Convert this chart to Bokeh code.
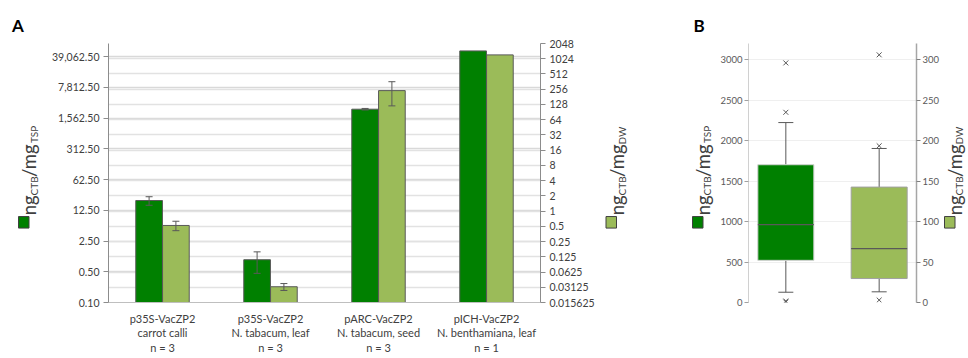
import math
from bokeh.plotting import figure
from bokeh.models import (FactorRange, Range1d, LogAxis, LinearAxis, FixedTicker, Grid,
                          ColumnDataSource, LogScale)
from bokeh.core.properties import value
from bokeh.transform import dodge
from bokeh.layouts import row
from bokeh.embed import file_html
from bokeh.resources import INLINE

# ---------------- data: panel A ----------------
group_construct = ["p35S-VacZP2", "p35S-VacZP2", "pARC-VacZP2", "pICH-VacZP2"]
group_tissue = ["carrot calli", "N. tabacum, leaf", "N. tabacum, seed", "N. benthamiana, leaf"]
group_n = ["n = 3", "n = 3", "n = 3", "n = 1"]
groups = [f"{a}\n{b}\n{c}" for a, b, c in zip(group_construct, group_tissue, group_n)]

tsp_mean = [20.9, 0.94, 2500.0, 53000.0]
tsp_err = [4.6, 0.48, 100.0, 0.0]
dw_mean = [0.52, 0.032, 240.0, 1220.0]
dw_err = [0.11, 0.005, 120.0, 0.0]

tsp_ticks = [0.1, 0.5, 2.5, 12.5, 62.5, 312.5, 1562.5, 7812.5, 39062.5]
tsp_tick_labels = ["0.10", "0.50", "2.50", "12.50", "62.50", "312.50",
                   "1,562.50", "7,812.50", "39,062.50"]
dw_ticks = [0.015625, 0.03125, 0.0625, 0.125, 0.25, 0.5, 1, 2, 4, 8, 16, 32,
            64, 128, 256, 512, 1024, 2048]
dw_tick_labels = ["0.015625", "0.03125", "0.0625", "0.125", "0.25", "0.5", "1",
                  "2", "4", "8", "16", "32", "64", "128", "256", "512", "1024", "2048"]
tsp_axis_max = 78125.0

# ---------------- data: panel B ----------------
box_q1 = [521.0, 29.6]
box_median = [962.0, 66.6]
box_q3 = [1702.0, 142.6]
box_low = [127.0, 13.2]
box_high = [2223.0, 190.3]
tsp_outliers = [2960.0, 2350.0, 18.0, 6.0]
dw_outliers = [306.0, 193.6, 3.0]
b_tsp_ticks = [0, 500, 1000, 1500, 2000, 2500, 3000]
b_dw_ticks = [0, 50, 100, 150, 200, 250, 300]

DARK = "#008000"
LIGHT = "#9BBB59"
EDGE = "#595959"
TXT = "#404040"
FONT = "Lato"
H = 356
FT = 43    # frame top (page px)
FB = 303   # frame bottom (page px)
BT, BB = FT, H - FB


def strip(width, left, title=None, title_x=0.0):
    f = figure(width=width, height=H, x_range=Range1d(left, left + width),
               y_range=Range1d(-FB, -FT), x_axis_location=None, y_axis_location=None,
               toolbar_location=None, output_backend="svg",
               min_border_left=0, min_border_right=0, min_border_top=BT,
               min_border_bottom=BB)
    f.outline_line_color = None
    f.grid.visible = False
    if title is not None:
        f.title.text = title
        f.title.text_font = FONT
        f.title.text_font_size = "17px"
        f.title.text_font_style = "bold"
        f.title.text_color = "black"
        f.title.align = "left"
        f.title.offset = title_x - left
        f.title.standoff = 15.5
    return f


def vtext(f, x, y, text, size):
    f.text(x=[x], y=[-y], text=[text], angle=math.pi / 2,
           text_align="left", text_baseline="alphabetic", text_font=value(FONT),
           text_font_size=value(size), text_color=TXT)


def unit_label(f, sq_left, base_x, sub_x, sub_start, sub_text, fill):
    f.quad(left=[sq_left], right=[sq_left + 10.5], top=[-216.7], bottom=[-228.3],
           fill_color=fill, line_color="#404040", line_width=1)
    vtext(f, base_x, 215.5, "ng", "18.5px")
    vtext(f, sub_x, 195.5, "CTB", "10px")
    vtext(f, base_x, 177, "/mg", "18.5px")
    vtext(f, sub_x, sub_start, sub_text, "10px")


# ================= strip left of A =================
LA = strip(48, 0, "A", 11.5)
unit_label(LA, 18.0, 28.5, 33.8, 143.0, "TSP", DARK)

# ================= panel A =================
tsp_range = Range1d(tsp_ticks[0], tsp_axis_max)
dw_range = Range1d(dw_ticks[0], dw_ticks[-1])
pA = figure(width=550, height=H, x_range=FactorRange(factors=groups), y_range=tsp_range,
            y_axis_type="log", output_backend="svg",
            toolbar_location=None, min_border_left=60, min_border_right=58,
            min_border_top=BT, min_border_bottom=BB)
pA.extra_y_ranges = {"dw": dw_range}
pA.extra_y_scales = {"dw": LogScale()}
pA.outline_line_color = None

src = ColumnDataSource(dict(cat=groups, tsp=tsp_mean, dw=dw_mean))
OFF = 0.124
W = 0.247
pA.vbar(x=dodge("cat", -OFF, range=pA.x_range), top="tsp", bottom=tsp_range.start,
        width=W, source=src, fill_color=DARK, line_color=EDGE, line_width=1)
pA.vbar(x=dodge("cat", OFF, range=pA.x_range), top="dw", bottom=dw_range.start,
        width=W, source=src, fill_color=LIGHT, line_color=EDGE, line_width=1,
        y_range_name="dw")

idx = [i for i in range(len(groups)) if tsp_err[i] > 0]
esrc_t = ColumnDataSource(dict(cat=[groups[i] for i in idx],
                               up=[tsp_mean[i] + tsp_err[i] for i in idx],
                               lo=[tsp_mean[i] - tsp_err[i] for i in idx]))
idx2 = [i for i in range(len(groups)) if dw_err[i] > 0]
esrc_d = ColumnDataSource(dict(cat=[groups[i] for i in idx2],
                               up=[dw_mean[i] + dw_err[i] for i in idx2],
                               lo=[dw_mean[i] - dw_err[i] for i in idx2]))
for es, off, rn in ((esrc_t, -OFF, "default"), (esrc_d, OFF, "dw")):
    xx = dodge("cat", off, range=pA.x_range)
    pA.segment(x0=xx, x1=xx, y0="lo", y1="up", source=es, line_color=EDGE,
               line_width=1, y_range_name=rn)
    pA.scatter(x=xx, y="up", source=es, marker="dash", size=7, line_color=EDGE,
               line_width=1, y_range_name=rn)
    pA.scatter(x=xx, y="lo", source=es, marker="dash", size=7, line_color=EDGE,
               line_width=1, y_range_name=rn)

lax = pA.yaxis[0]
lax.ticker = FixedTicker(ticks=tsp_ticks)
lax.major_label_overrides = dict(zip(tsp_ticks, tsp_tick_labels))
pA.ygrid[0].ticker = FixedTicker(ticks=tsp_ticks)
pA.ygrid[0].grid_line_color = "#D9D9D9"
pA.ygrid[0].grid_line_width = 1.5
pA.xgrid.visible = False

rax = LogAxis(y_range_name="dw", ticker=FixedTicker(ticks=dw_ticks),
              major_label_overrides=dict(zip(dw_ticks, dw_tick_labels)))
pA.add_layout(rax, "right")
g2 = Grid(dimension=1, ticker=FixedTicker(ticks=dw_ticks), y_range_name="dw",
          grid_line_color="#E2E2E2", grid_line_width=1.5)
pA.add_layout(g2)

for ax in (lax, rax):
    ax.axis_line_color = "#8C8C8C"
    ax.major_tick_line_color = "#8C8C8C"
    ax.major_tick_out = 5
    ax.major_tick_in = 0
    ax.minor_tick_line_color = None
    ax.major_label_text_font = FONT
    ax.major_label_text_font_size = "10.5px"
    ax.major_label_text_color = TXT
    ax.major_label_standoff = 4

xax = pA.xaxis[0]
xax.axis_line_color = "#BFBFBF"
xax.major_tick_line_color = None
xax.minor_tick_line_color = None
xax.major_label_text_font = FONT
xax.major_label_text_font_size = "11px"
xax.major_label_text_color = TXT
xax.major_label_standoff = 3
xax.major_label_text_line_height = 1.12

# ================= middle strip =================
M = strip(119, 598, "B", 693.0)
unit_label(M, 605.5, 616.0, 621.3, 144.5, "DW", LIGHT)
unit_label(M, 692.0, 702.5, 706.8, 143.0, "TSP", DARK)

# ================= panel B =================
pB = figure(width=225, height=H, x_range=Range1d(0.6, 2.4),
            y_range=Range1d(0, 3200), x_axis_location=None, output_backend="svg",
            toolbar_location=None, min_border_left=29, min_border_right=25,
            min_border_top=BT, min_border_bottom=BB)
pB.extra_y_ranges = {"dw": Range1d(0, 320)}
pB.outline_line_color = None
pB.xgrid.visible = False
pB.ygrid[0].ticker = FixedTicker(ticks=b_tsp_ticks)
pB.ygrid[0].grid_line_color = "#EFEFEF"

bl = pB.yaxis[0]
bl.ticker = FixedTicker(ticks=b_tsp_ticks)
br = LinearAxis(y_range_name="dw", ticker=FixedTicker(ticks=b_dw_ticks))
pB.add_layout(br, "right")
for ax in (bl, br):
    ax.major_tick_out = 4
    ax.major_tick_in = 0
    ax.minor_tick_line_color = None
    ax.major_label_text_font = FONT
    ax.major_label_text_font_size = "9.5px"
    ax.major_label_text_color = EDGE
    ax.major_label_standoff = 2
bl.axis_line_color = "#D0D0D0"
bl.major_tick_line_color = "#A0A0A0"
br.axis_line_color = "#A6A6A6"
br.axis_line_width = 1.5
br.major_tick_line_color = "#808080"

BW = 0.6
CAP = 15
for i, (pos, fill, rn, outl, edge) in enumerate(
        ((1, DARK, "default", tsp_outliers, "#D0D0D0"),
         (2, LIGHT, "dw", dw_outliers, "#A0A0A0"))):
    s = ColumnDataSource(dict(x=[pos], q1=[box_q1[i]], q3=[box_q3[i]], med=[box_median[i]],
                              lo=[box_low[i]], hi=[box_high[i]]))
    pB.segment(x0="x", x1="x", y0="q3", y1="hi", source=s, line_color=EDGE, y_range_name=rn)
    pB.segment(x0="x", x1="x", y0="lo", y1="q1", source=s, line_color=EDGE, y_range_name=rn)
    pB.scatter(x="x", y="hi", source=s, marker="dash", size=CAP, line_color=EDGE,
               y_range_name=rn)
    pB.scatter(x="x", y="lo", source=s, marker="dash", size=CAP, line_color=EDGE,
               y_range_name=rn)
    pB.vbar(x="x", bottom="q1", top="q3", width=BW, source=s, fill_color=fill,
            line_color=edge, line_width=1, y_range_name=rn)
    pB.hbar(y="med", left=pos - BW / 2, right=pos + BW / 2, height=0, source=s,
            line_color=EDGE, line_width=1.2, y_range_name=rn)
    os_ = ColumnDataSource(dict(x=[pos] * len(outl), y=outl))
    pB.scatter(x="x", y="y", source=os_, marker="x", size=7, line_color=EDGE,
               line_width=1, y_range_name=rn)

# ================= strip right of B =================
RB = strip(24, 942)
unit_label(RB, 944.0, 954.5, 958.8, 144.5, "DW", LIGHT)

layout = row(LA, pA, M, pB, RB)
open("out.html", "w").write(file_html(layout, INLINE))
